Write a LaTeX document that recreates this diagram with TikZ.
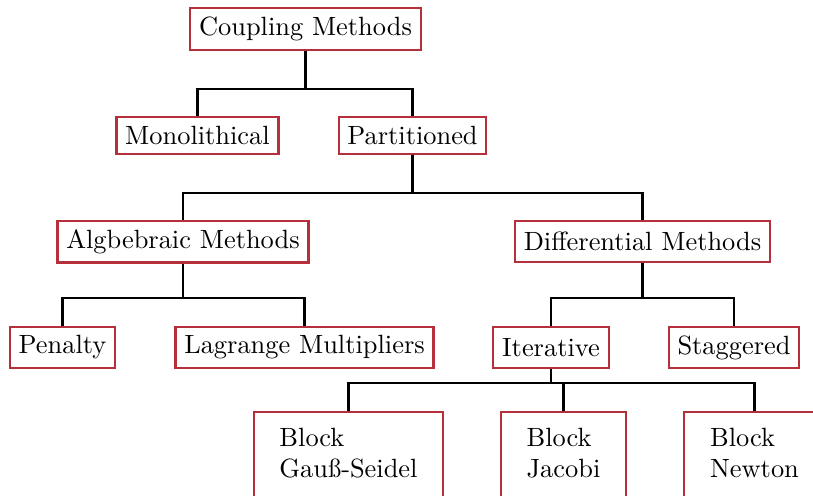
\documentclass[tikz,border=0pt]{standalone}
\usetikzlibrary{calc}
\definecolor{boxred}{RGB}{181,48,58}
\begin{document}
\begin{tikzpicture}[x=0.3788pt, y=-0.3788pt,
  box/.style={draw=boxred, line width=0.8pt, fill=white, inner sep=3.33pt},
  tallbox/.style={box, minimum height=15.6pt},
  leafbox/.style={box, align=left, inner xsep=9.8pt, inner ysep=6pt, anchor=north},
  conn/.style={draw=black, line width=0.8pt}]
  \useasboundingbox (0,0) rectangle (813,495);

  % tree nodes
  \node[box] (coupling)     at (305.5,29)  {Coupling Methods};
  \node[box] (mono)         at (197.5,135.5) {Monolithical};
  \node[box] (part)         at (412.5,135.5) {Partitioned};
  \node[tallbox] (alg)      at (183,241.5) {Algbebraic Methods};
  \node[tallbox] (diff)     at (642.5,241.5) {Differential Methods};
  \node[tallbox] (pen)      at (62.5,347.5) {Penalty};
  \node[tallbox] (lag)      at (304.5,347.5) {Lagrange Multipliers};
  \node[tallbox] (iter)     at (551,347.5) {Iterative};
  \node[tallbox] (stag)     at (734,347.5) {Staggered};
  \node[leafbox] (gs)   at (348.5,411) {Block\\Gauß-Seidel\rule[-14pt]{0pt}{1pt}};
  \node[leafbox] (jac)  at (563.5,411) {Block\\Jacobi\rule[-14pt]{0pt}{1pt}};
  \node[leafbox] (newt) at (754.5,411) {Block\\Newton\rule[-14pt]{0pt}{1pt}};

  % elbow connectors: parent drops to a common bus, then down to each child
  \foreach \p/\c/\bus in {coupling/mono/89, coupling/part/89,
                          part/alg/193, part/diff/193,
                          alg/pen/298, alg/lag/298,
                          diff/iter/298, diff/stag/298,
                          iter/gs/383, iter/jac/383, iter/newt/383}
    \draw[conn] (\p.south) |- (\c.north |- 0,\bus) -- (\c.north);
\end{tikzpicture}
\end{document}
